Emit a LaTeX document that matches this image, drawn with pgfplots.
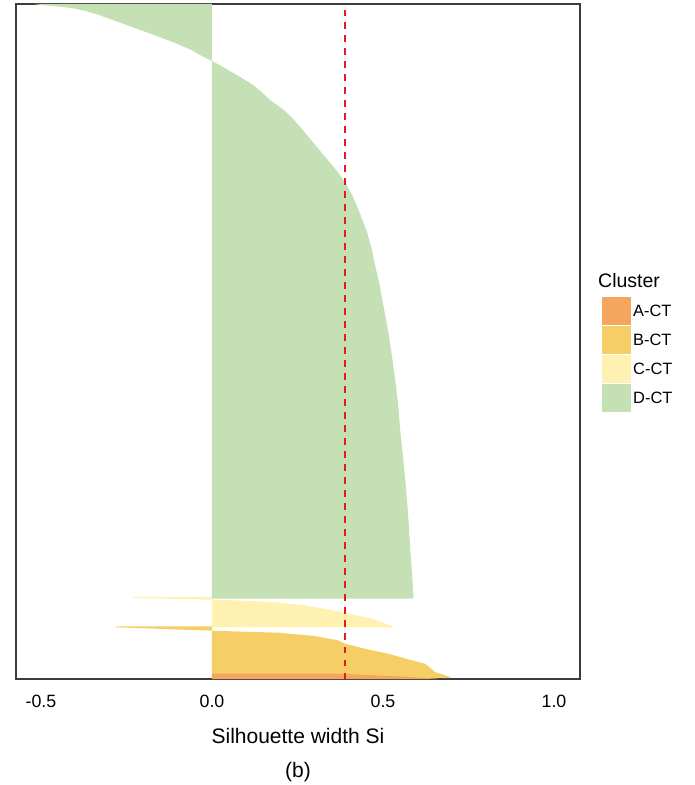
\documentclass[border=0pt]{standalone}
\usepackage{fontspec}
\setmainfont{Liberation Sans}
\usepackage{pgfplots}
\pgfplotsset{compat=1.18}

\definecolor{clA}{RGB}{244,165,94}
\definecolor{clB}{RGB}{245,207,102}
\definecolor{clC}{RGB}{254,241,177}
\definecolor{clD}{RGB}{197,224,180}
\definecolor{avgred}{RGB}{228,26,28}
\definecolor{frame}{RGB}{60,60,60}

\begin{document}
\begin{tikzpicture}[x=1pt,y=1pt]
\useasboundingbox (0,0) rectangle (695,785);
\begin{axis}[
  at={(16pt,106pt)}, anchor=south west,
  scale only axis, width=564pt, height=675pt,
  xmin=-0.573, xmax=1.076, ymin=0, ymax=675,
  axis line style={draw=frame, line width=1.2pt},
  xtick={-0.5,0,0.5,1}, xticklabels={-0.5,0.0,0.5,1.0},
  ytick=\empty,
  major tick length=0pt,
  xticklabel style={anchor=base, yshift=-28pt, font=\fontsize{17.8}{20}\selectfont},
  xlabel={Silhouette width Si},
  xlabel style={at={(axis description cs:0.5,0)}, anchor=base, yshift=-64pt,
                font=\fontsize{21}{24}\selectfont},
  legend image code/.code={\fill[#1] (0pt,-14pt) rectangle (29pt,14pt);},
  legend style={at={(1.039,0.566)}, anchor=north west, draw=none, fill=none,
                inner sep=0pt, row sep=1pt, column sep=2pt,
                font=\fontsize{16.4}{18}\selectfont,
                nodes={inner sep=0pt}},
  legend cell align=left,
  reverse legend,
]
% D-CT silhouette widths (sorted, top of the plot)
\addplot[fill=clD, draw=none] coordinates {
  (0,675) (-0.52,675) (-0.50,674) (-0.45,672.5) (-0.41,671) (-0.37,668)
  (-0.33,664) (-0.29,659) (-0.25,654) (-0.21,649) (-0.17,644) (-0.13,639)
  (-0.094,634) (-0.06,629) (-0.035,624) (-0.015,620.5) (0,618) (0.03,612.5)
  (0.062,606) (0.09,600.5) (0.12,594) (0.145,587) (0.17,579) (0.21,569)
  (0.235,561) (0.258,552) (0.297,536) (0.32,526.5) (0.346,516) (0.37,506)
  (0.39,496) (0.41,484) (0.425,472) (0.44,459) (0.454,446) (0.467,430)
  (0.478,412) (0.489,396) (0.498,379) (0.507,363) (0.516,346) (0.527,321)
  (0.537,296) (0.545,271) (0.551,246) (0.559,221) (0.566,196) (0.574,162)
  (0.58,129) (0.585,105) (0.589,82) (0.589,80.3) (0,80.3)
};
\addlegendentry{D-CT}
% C-CT
\addplot[fill=clC, draw=none] coordinates {
  (0,82) (-0.23,82) (-0.23,81) (0,79.3) (0.097,78.3) (0.176,77)
  (0.272,73.7) (0.368,67.7) (0.468,60.3) (0.529,52.7) (0.529,51.7) (0,51.7)
};
\addlegendentry{C-CT}
% B-CT
\addplot[fill=clB, draw=none] coordinates {
  (0,52.7) (-0.28,52.7) (-0.28,51.7) (0,48.3) (0.193,46.3) (0.30,43)
  (0.368,38.7) (0.389,35.3) (0.45,30) (0.515,25.3) (0.57,20) (0.623,15.3)
  (0.652,7) (0.696,2) (0.696,1) (0,1)
};
\addlegendentry{B-CT}
% A-CT
\addplot[fill=clA, draw=none] coordinates {
  (0,5.3) (0.37,5.3) (0.55,2.5) (0.66,0.3) (0.66,0) (0,0)
};
\addlegendentry{A-CT}
% average silhouette width
\addplot[forget plot, avgred, line width=1.8pt, dash pattern=on 6.5pt off 6.5pt]
  coordinates {(0.39,0) (0.39,669)};
\end{axis}
\node[anchor=base west, inner sep=0pt, font=\fontsize{19.5}{22}\selectfont]
  at (598,497) {Cluster};
\node[anchor=base, inner sep=0pt, font=\fontsize{21}{24}\selectfont]
  at (298,8) {(b)};
\end{tikzpicture}
\end{document}
